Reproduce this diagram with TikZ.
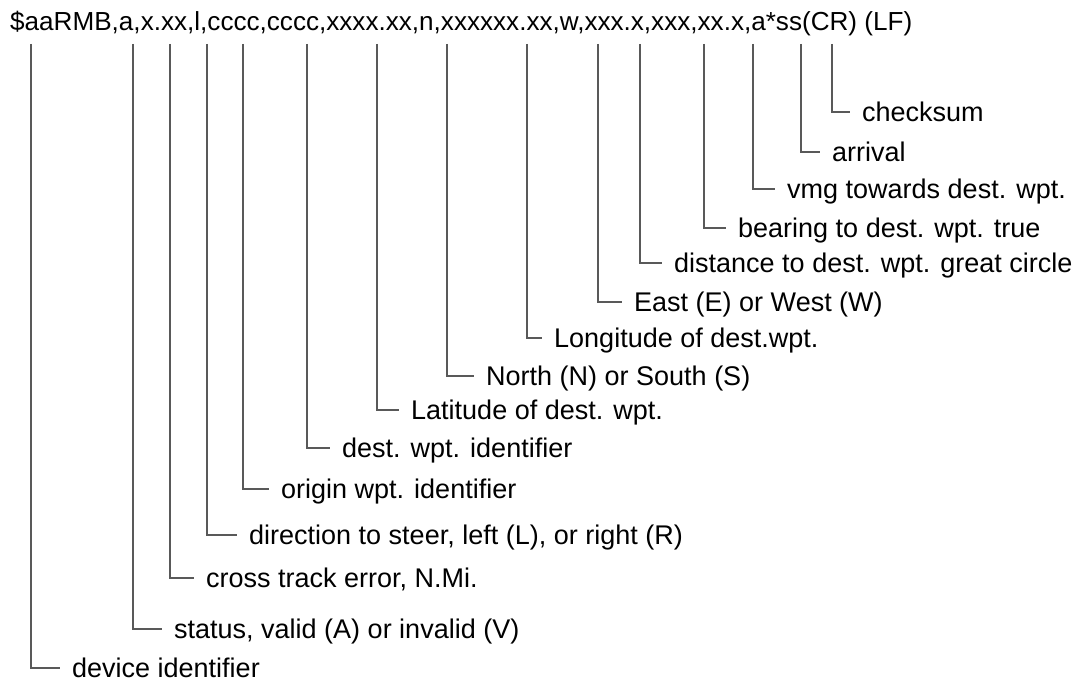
\documentclass[tikz,border=0pt]{standalone}
\usepackage{fontspec}
\setmainfont{Liberation Sans}

\begin{document}
\begin{tikzpicture}[x=1pt,y=-1pt,
        field/.style={anchor=west, inner xsep=12pt, inner ysep=0pt, text height=19pt, text depth=0pt, font=\fontsize{27}{32}\selectfont},
        leader/.style={draw=black!65, line width=1.1pt}]
        \useasboundingbox (0,0) rectangle (1086,684);
        % the sentence
        \node[anchor=base west, inner sep=0pt, font=\fontsize{26.1}{31}\selectfont] (sentence) at (10,31) {\$aaRMB,a,x.xx,l,cccc,cccc,xxxx.xx,n,xxxxxx.xx,w,xxx.x,xxx,xx.x,a*ss(CR) (LF)};
        % top ends of the leaders, under each field
        \coordinate (devtop) at (31,44);
        \coordinate (stattop) at (133,44);
        \coordinate (xtetop) at (170,44);
        \coordinate (dirtop) at (207,44);
        \coordinate (origtop) at (243,44);
        \coordinate (destop) at (307,44);
        \coordinate (lattop) at (377,44);
        \coordinate (nstop) at (447,44);
        \coordinate (lontop) at (527,44);
        \coordinate (ewtop) at (598,44);
        \coordinate (disttop) at (640,44);
        \coordinate (brgtop) at (704,44);
        \coordinate (vmgtop) at (753,44);
        \coordinate (arrtop) at (801,44);
        \coordinate (cstop) at (832,44);
        % field descriptions
        \node[field] (dev) at (60,668) {device identifier};
        \node[field] (stat) at (162,629) {status, valid (A) or invalid (V)};
        \node[field] (xte) at (194,578) {cross track error, N.Mi.};
        \node[field] (dir) at (237,535) {direction to steer, left (L), or right (R)};
        \node[field] (orig) at (269,489) {origin wpt. identifier};
        \node[field] (dest) at (330,448) {dest. wpt. identifier};
        \node[field] (lat) at (399,410) {Latitude of dest. wpt.};
        \node[field] (ns) at (474,376) {North (N) or South (S)};
        \node[field] (lon) at (542,338) {Longitude of dest.wpt.};
        \node[field] (ew) at (622,302) {East (E) or West (W)};
        \node[field] (dist) at (662,263) {distance to dest. wpt. great circle};
        \node[field] (brg) at (726,228) {bearing to dest. wpt. true};
        \node[field] (vmg) at (775,189) {vmg towards dest. wpt.};
        \node[field] (arr) at (820,152) {arrival};
        \node[field] (cs) at (850,112) {checksum};
        % leaders
        \draw[leader] (devtop) |- (dev.west);
        \draw[leader] (stattop) |- (stat.west);
        \draw[leader] (xtetop) |- (xte.west);
        \draw[leader] (dirtop) |- (dir.west);
        \draw[leader] (origtop) |- (orig.west);
        \draw[leader] (destop) |- (dest.west);
        \draw[leader] (lattop) |- (lat.west);
        \draw[leader] (nstop) |- (ns.west);
        \draw[leader] (lontop) |- (lon.west);
        \draw[leader] (ewtop) |- (ew.west);
        \draw[leader] (disttop) |- (dist.west);
        \draw[leader] (brgtop) |- (brg.west);
        \draw[leader] (vmgtop) |- (vmg.west);
        \draw[leader] (arrtop) |- (arr.west);
        \draw[leader] (cstop) |- (cs.west);
\end{tikzpicture}
\end{document}
